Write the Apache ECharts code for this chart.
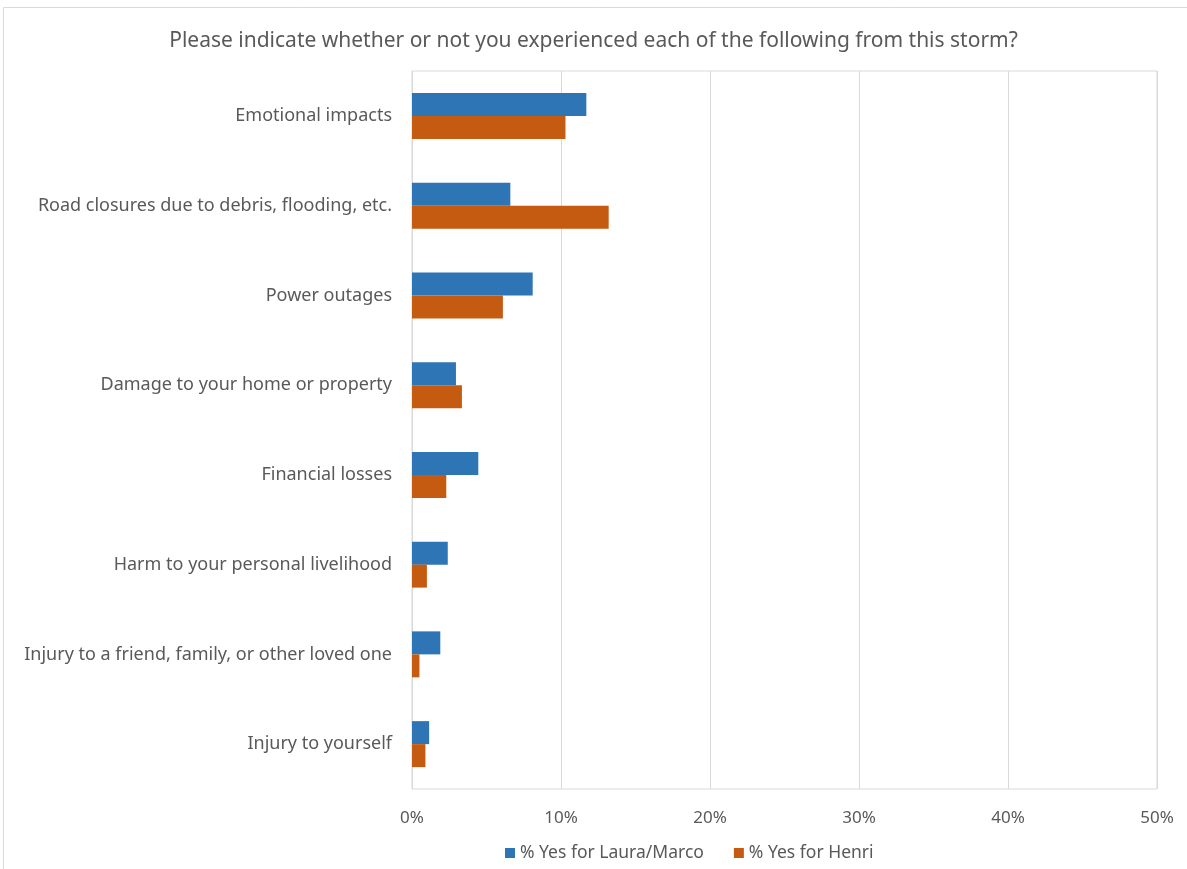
<!DOCTYPE html>
<html>
<head>
<meta charset="utf-8">
<script src="https://cdn.jsdelivr.net/npm/echarts@6/dist/echarts.min.js"></script>
<style>
  html, body { margin: 0; padding: 0; background: #fff; }
  #chart { width: 1187px; height: 869px; }
</style>
</head>
<body>
<div id="chart"></div>
<script>
// Survey: share of respondents who experienced each storm impact
const categories = [
  'Emotional impacts',
  'Road closures due to debris, flooding, etc.',
  'Power outages',
  'Damage to your home or property',
  'Financial losses',
  'Harm to your personal livelihood',
  'Injury to a friend, family, or other loved one',
  'Injury to yourself'
];
const lauraMarco = [11.7, 6.6, 8.1, 2.95, 4.45, 2.4, 1.9, 1.15];
const henri = [10.3, 13.2, 6.1, 3.35, 2.3, 1.0, 0.5, 0.9];
const seriesNames = ['% Yes for Laura/Marco', '% Yes for Henri'];
const xTicks = [0, 10, 20, 30, 40, 50];

const font = 'Noto Sans';
const textColor = '#595959';

const chart = echarts.init(document.getElementById('chart'));
chart.setOption({
  backgroundColor: '#fff',
  animation: false,
  title: {
    text: 'Please indicate whether or not you experienced each of the following from this storm?',
    left: 'center',
    top: 26,
    textStyle: { fontFamily: font, fontSize: 21, fontWeight: 'normal', color: textColor }
  },
  legend: {
    data: seriesNames,
    bottom: 2,
    left: 500,
    itemWidth: 10,
    itemHeight: 10,
    itemGap: 30,
    icon: 'rect',
    textStyle: { fontFamily: font, fontSize: 17.5, color: textColor }
  },
  grid: {
    left: 412, right: 30, top: 71, bottom: 80,
    show: true, borderColor: '#d9d9d9', borderWidth: 1
  },
  xAxis: {
    type: 'value',
    min: xTicks[0],
    max: xTicks[xTicks.length - 1],
    interval: 10,
    axisLine: { show: false },
    axisTick: { show: false },
    splitLine: { lineStyle: { color: '#d9d9d9', width: 1 } },
    axisLabel: {
      formatter: v => v + '%',
      fontFamily: font, fontSize: 17, color: textColor, margin: 21
    }
  },
  yAxis: {
    type: 'category',
    data: categories,
    inverse: true,
    axisLine: { show: true, lineStyle: { color: '#d9d9d9' } },
    axisTick: { show: false },
    axisLabel: { fontFamily: font, fontSize: 18, color: textColor, margin: 20 }
  },
  series: [
    {
      name: seriesNames[0], type: 'bar', data: lauraMarco,
      barWidth: 23, barGap: '0%',
      itemStyle: { color: '#2e75b6' }
    },
    {
      name: seriesNames[1], type: 'bar', data: henri,
      barWidth: 23, barGap: '0%',
      itemStyle: { color: '#c55a11' }
    }
  ],
  graphic: [{
    type: 'rect',
    shape: { x: 3.5, y: 7.5, width: 1200, height: 900 },
    style: { fill: 'none', stroke: '#d9d9d9', lineWidth: 1 },
    silent: true
  }]
});
</script>
</body>
</html>
